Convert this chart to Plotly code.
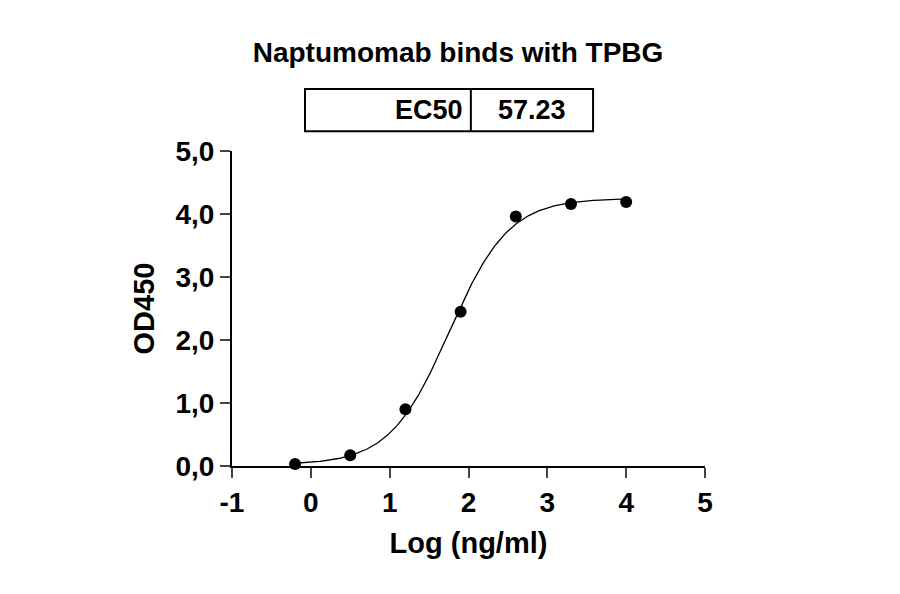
import numpy as np
import plotly.graph_objects as go

# measured points
log_conc = [-0.2, 0.5, 1.2, 1.9, 2.6, 3.3, 4.0]
od450 = [0.03, 0.17, 0.90, 2.45, 3.96, 4.16, 4.19]

# 4PL fit parameters
bottom, top, ec50, hill = 0.02, 4.25, 57.23, 1.15
log_ec50 = np.log10(ec50)

y_ticks = [0, 1, 2, 3, 4, 5]
y_labels = ["0,0", "1,0", "2,0", "3,0", "4,0", "5,0"]
x_ticks = [-1, 0, 1, 2, 3, 4, 5]

xs = np.linspace(min(log_conc), max(log_conc), 300)
fit = bottom + (top - bottom) / (1 + 10 ** (hill * (log_ec50 - xs)))

fig = go.Figure()
fig.add_trace(go.Scatter(x=xs, y=fit, mode="lines",
                         line=dict(color="black", width=1.3), hoverinfo="skip"))
fig.add_trace(go.Scatter(x=log_conc, y=od450, mode="markers",
                         marker=dict(color="black", size=12), cliponaxis=False))

font = dict(family="Liberation Sans, Arial", color="black")
fig.update_layout(
    width=900, height=594, showlegend=False,
    plot_bgcolor="white", paper_bgcolor="white",
    margin=dict(l=224, r=203, t=143, b=136),
    title=dict(text="<b>Naptumomab binds with TPBG</b>", x=0.5, xanchor="center",
               y=0.925, yanchor="middle", font=dict(size=28, **font)),
    font=font,
)
fig.update_xaxes(range=[-1, 5], tickvals=x_ticks, ticktext=[f"<b>{v}</b>" for v in x_ticks],
                 showline=True, linecolor="black", linewidth=2, ticks="outside",
                 ticklen=10, tickwidth=2, showgrid=False, zeroline=False,
                 tickfont=dict(size=28, **font),
                 title=dict(text="<b>Log (ng/ml)</b>", font=dict(size=29, **font), standoff=16))
fig.update_yaxes(range=[0, 5], tickvals=y_ticks, ticktext=[f"<b>{v}</b>" for v in y_labels],
                 showline=True, linecolor="black", linewidth=2, ticks="outside",
                 ticklen=10, tickwidth=2, showgrid=False, zeroline=False,
                 tickfont=dict(size=28, **font),
                 title=dict(text="<b>OD450</b>", font=dict(size=29, **font), standoff=12))

# EC50 table
fig.add_shape(type="rect", xref="x", yref="paper", x0=-0.074, x1=3.58, y0=1.063, y1=1.197,
              line=dict(color="black", width=2))
fig.add_shape(type="line", xref="x", yref="paper", x0=2.03, x1=2.03, y0=1.063, y1=1.197,
              line=dict(color="black", width=2))
fig.add_annotation(xref="x", yref="paper", x=1.95, y=1.13, text="<b>EC50</b>",
                   showarrow=False, xanchor="right", yanchor="middle",
                   font=dict(size=27, **font))
fig.add_annotation(xref="x", yref="paper", x=2.81, y=1.13, text=f"<b>{ec50}</b>",
                   showarrow=False, xanchor="center", yanchor="middle",
                   font=dict(size=27, **font))

fig.write_html("out.html")
